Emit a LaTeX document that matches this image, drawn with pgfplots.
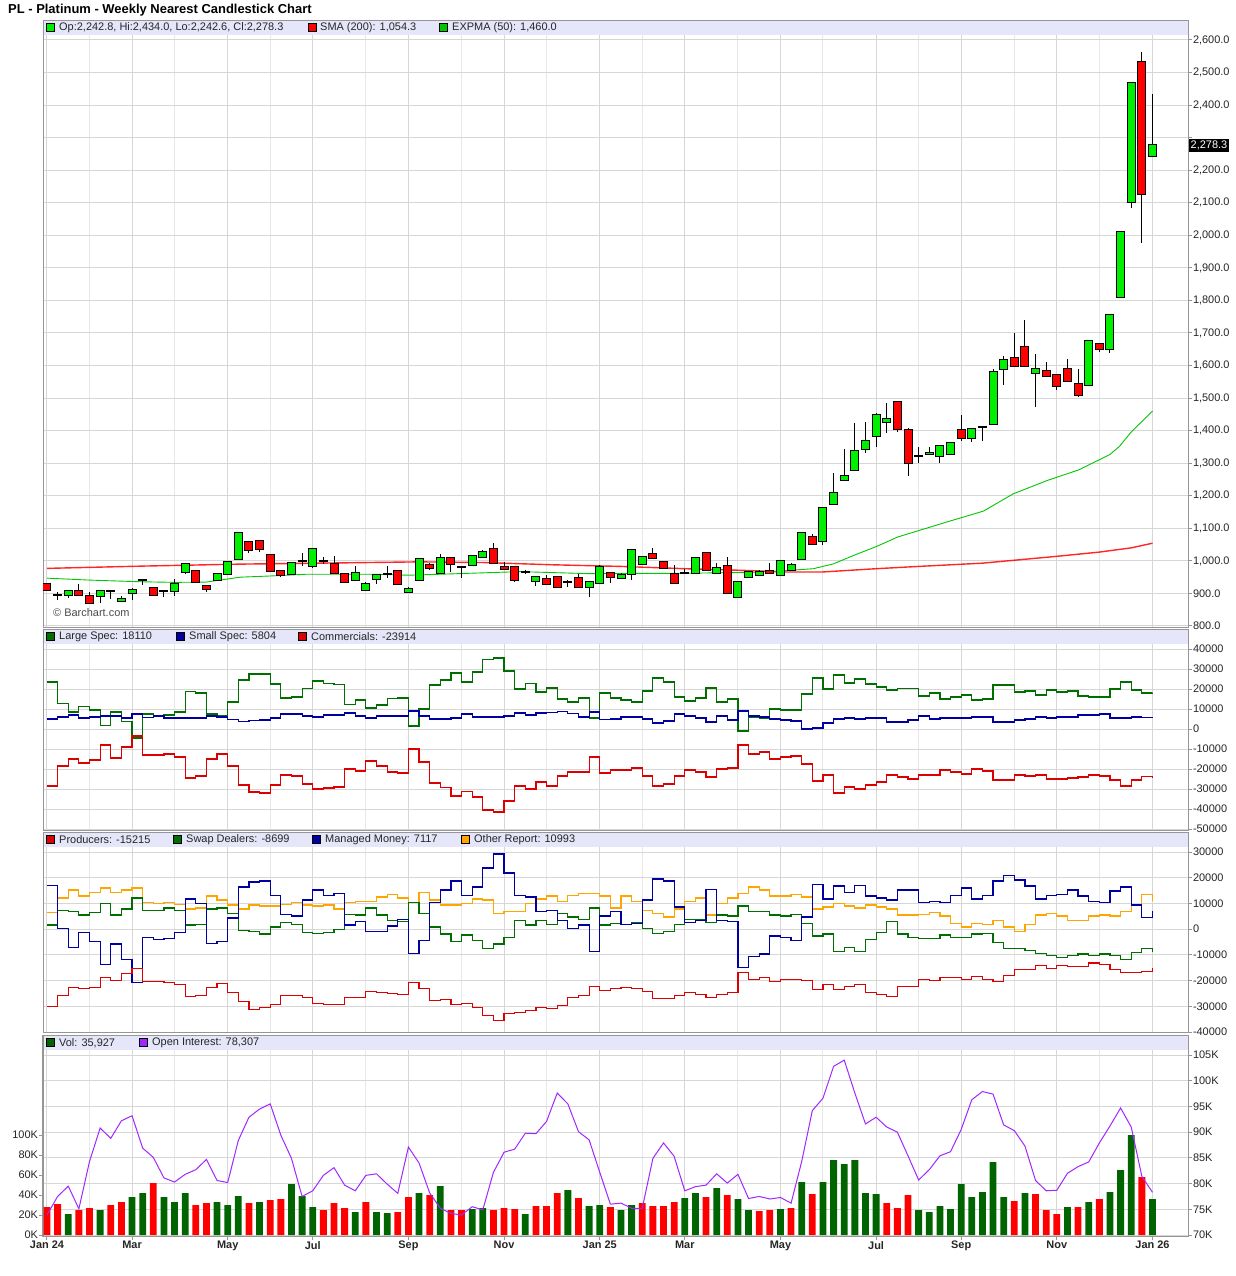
\documentclass[border=0pt]{standalone}
\usepackage{fontspec}
\setmainfont{Liberation Sans}
\usepackage{pgfplots}
\usepackage{pgfplotstable}
\pgfplotsset{compat=1.18}
\definecolor{cgreen}{RGB}{0,238,0}
\definecolor{cred}{RGB}{255,0,0}
\definecolor{emagreen}{RGB}{0,200,0}
\definecolor{dkgreen}{RGB}{0,110,0}
\definecolor{navy}{RGB}{0,0,160}
\definecolor{cotred}{RGB}{220,0,0}
\definecolor{orng}{RGB}{255,165,0}
\definecolor{purp}{RGB}{160,40,255}
\definecolor{volgreen}{RGB}{0,100,0}
\definecolor{stripc}{RGB}{230,230,250}
\definecolor{gridc}{RGB}{214,214,214}
\definecolor{gridl}{RGB}{232,232,232}
\definecolor{framec}{RGB}{150,150,150}
\newcommand\lf{\fontsize{11}{13}\selectfont}

\pgfplotstableread{
i o h l c
1 896 905 880 896
2 894 911 885 909
5 892 908 872 907
6 909 910 883 909
7 877 892 877 883
8 901 916 880 910
9 940 942 925 940
11 908 908 888 908
12 907 944 892 928
13 965 990 959 990
16 941 959 941 959
17 960 998 960 998
18 1005 1085 1005 1085
23 961 993 957 993
24 1001 1024 985 1001
25 983 1041 977 1036
26 1001 1011 990 1001
29 941 983 941 963
30 910 935 910 929
31 944 959 928 956
32 960 983 947 960
34 905 921 905 913
35 941 1005 941 1005
37 962 1022 962 1008
39 982 982 947 982
40 986 1014 986 1014
41 1011 1034 1008 1027
45 967 972 959 967
46 937 950 924 950
49 936 942 921 936
51 919 934 890 934
52 931 986 931 981
54 947 962 947 957
55 959 1033 942 1033
56 990 1015 990 1011
60 964 974 964 964
61 962 1008 962 1008
63 962 995 962 977
65 888 938 885 935
66 950 965 947 965
67 956 972 954 965
69 956 999 956 999
70 973 993 973 988
71 1005 1087 1005 1087
73 1060 1165 1050 1163
74 1176 1271 1176 1209
75 1249 1345 1247 1261
76 1280 1424 1280 1337
77 1345 1428 1331 1369
78 1384 1455 1350 1449
79 1427 1486 1393 1437
82 1322 1350 1300 1322
83 1328 1350 1328 1332
84 1323 1353 1300 1353
85 1328 1362 1328 1362
87 1378 1406 1365 1406
88 1411 1411 1368 1411
89 1421 1590 1421 1580
90 1590 1628 1539 1618
93 1578 1634 1472 1590
98 1541 1676 1537 1676
100 1652 1756 1639 1756
101 1810 2010 1810 2010
102 2102 2468 2084 2468
104 2242.8 2434 2242.6 2278.3
}\candup

\pgfplotstableread{
i o h l c
0 928 930 906 910
3 909 928 894 894
4 893 903 870 870
10 918 918 894 894
14 968 968 934 934
15 922 925 903 913
19 1059 1059 1023 1033
20 1060 1060 1027 1036
21 1017 1017 968 968
22 970 970 950 956
27 991 1016 962 962
28 959 959 934 934
33 969 969 928 928
36 986 995 972 979
38 1008 1008 967 990
42 1036 1054 990 995
43 981 998 974 974
44 981 981 935 940
47 943 956 928 928
48 950 950 920 920
50 946 959 916 919
53 962 962 931 951
57 1021 1040 1008 1008
58 996 996 977 977
59 959 988 931 931
62 1024 1024 972 972
64 985 1013 900 900
68 968 995 959 962
72 1073 1083 1051 1051
80 1489 1489 1396 1406
81 1403 1409 1261 1302
86 1403 1447 1368 1378
91 1624 1700 1595 1598
92 1657 1739 1600 1600
94 1582 1610 1565 1568
95 1572 1572 1526 1538
96 1590 1621 1554 1554
97 1544 1588 1503 1510
99 1667 1667 1641 1652
103 2532 2563 1976 2127
}\canddn

\pgfplotstableread{
i ls ss cm
0 23500 5000 -28500
1 12700 6000 -18500
2 8500 7000 -15000
3 11300 5500 -17000
4 9500 6000 -15500
5 1800 6500 -8000
6 8500 6500 -14500
7 3700 5500 -9000
8 -4500 7500 -3500
9 7500 5800 -13000
10 6800 6500 -13000
11 7000 5500 -12500
12 8500 5500 -14000
13 18800 5500 -24500
14 18000 5500 -23500
15 7500 6500 -15000
16 6800 6000 -12500
17 13500 4700 -18500
18 24500 3700 -28000
19 27500 4200 -31500
20 27500 4500 -32000
21 22500 5500 -28000
22 15500 7500 -23000
23 16000 7500 -23500
24 20300 6500 -27500
25 24000 6000 -30000
26 22800 7000 -29500
27 22200 7000 -29000
28 12200 8000 -20000
29 14500 6500 -21000
30 10500 5500 -16000
31 12000 6500 -18500
32 15200 6500 -21500
33 15500 6500 -22000
34 1500 9000 -10000
35 10000 6500 -16500
36 22000 5000 -27000
37 24500 5000 -29200
38 28000 5500 -33500
39 23500 7500 -31200
40 28500 6000 -34000
41 34800 6000 -40500
42 35500 6000 -41500
43 29000 6500 -36000
44 20000 8000 -28500
45 22700 7000 -30000
46 18500 8000 -26500
47 20500 8200 -28500
48 15000 8700 -23500
49 13500 7700 -21500
50 15500 6000 -21500
51 5500 8500 -14000
52 18000 4700 -22000
53 15500 5000 -20500
54 14500 6000 -20500
55 13500 6000 -19500
56 19000 5000 -23500
57 25500 3000 -28500
58 23500 4000 -27500
59 16000 7500 -23500
60 14000 6500 -20500
61 15500 5500 -21500
62 20500 3500 -24000
63 13500 6500 -20000
64 15000 4500 -19500
65 -1000 9000 -8000
66 6000 6500 -12500
67 5500 6000 -11500
68 10000 5000 -15000
69 9500 4500 -14000
70 9500 4000 -13500
71 17500 0 -17500
72 25500 500 -26000
73 20000 3000 -23000
74 27000 5000 -32000
75 23000 5500 -29000
76 25000 5000 -30000
77 22500 5500 -28000
78 21000 5500 -26500
79 19500 3500 -23000
80 20300 3500 -24000
81 20300 4500 -25000
82 16500 6500 -23000
83 18000 5000 -23000
84 15000 5500 -20500
85 16000 5500 -21500
86 17000 5500 -22500
87 14500 6000 -20000
88 15000 6000 -21000
89 22000 3500 -25500
90 22000 3500 -25500
91 18500 4500 -23000
92 19000 5000 -23500
93 17000 6000 -23000
94 19500 5500 -25000
95 18500 6000 -25000
96 19000 6000 -24500
97 16500 7000 -24000
98 16000 7000 -23000
99 16000 7500 -23500
100 20000 5500 -25500
101 23500 5500 -28500
102 19500 6000 -25500
103 18000 5800 -23900
104 18110 5804 -23914
}\cotA

\pgfplotstableread{
i pr sw mm ot
0 -30000 1600 17100 6600
1 -25700 7400 400 12100
2 -22600 7000 -7000 15200
3 -23000 5500 -1200 12900
4 -22600 6600 -4700 14400
5 -18700 10100 -13900 16000
6 -19900 5500 -5800 14400
7 -17100 7800 -11700 15200
8 -15200 12100 -20700 16000
9 -20300 7400 -3100 10500
10 -20300 7400 -3900 10100
11 -20700 8200 -3500 10500
12 -21400 7400 -1200 9700
13 -26100 1600 11700 7800
14 -25700 1900 10100 8200
15 -22600 7800 -5500 12900
16 -21000 8200 -4700 11300
17 -24600 6200 4300 9400
18 -28100 -400 16400 7800
19 -31200 -800 18300 9400
20 -30400 -1900 18700 9000
21 -29200 800 13200 9000
22 -25700 2700 5800 9700
23 -25700 1900 5100 10500
24 -26500 -1200 11300 9400
25 -28800 -1600 15200 9000
26 -29200 -1200 13200 9400
27 -29200 0 14000 7800
28 -26500 5800 1600 10500
29 -26500 5500 3100 10900
30 -24200 8200 -800 10900
31 -24600 5500 -800 12500
32 -24900 3500 1200 13600
33 -25300 3100 3900 12100
34 -20700 10500 -9400 10500
35 -23000 6200 -4300 14400
36 -27700 800 10500 11300
37 -27300 -1900 15200 9400
38 -29200 -4700 18700 9400
39 -28800 -2300 13200 10100
40 -30400 -4300 16400 11700
41 -33500 -7400 23800 11300
42 -35500 -5800 29200 6200
43 -32700 -3100 21800 7000
44 -32300 3500 13200 7000
45 -31600 1600 12500 10100
46 -30400 3500 7000 11700
47 -30800 1900 7400 12900
48 -29600 6200 3500 10900
49 -26500 4700 400 13200
50 -25700 3900 1600 14000
51 -22200 8200 -8600 14000
52 -23800 1600 5100 12900
53 -23000 2300 7000 8200
54 -22600 1900 1900 12900
55 -23000 2700 2300 10900
56 -24200 400 11300 7400
57 -26900 -1600 19500 6200
58 -26900 -800 18700 4700
59 -25700 1900 8600 7800
60 -24600 3900 2700 10900
61 -25300 3900 3500 12100
62 -26500 2700 15300 5500
63 -25300 5500 3500 10100
64 -24600 5100 3100 12100
65 -16800 9000 -14800 14000
66 -19500 7000 -10500 16400
67 -18800 7000 -9700 15200
68 -20300 5500 -2700 12900
69 -19500 5100 -3100 12900
70 -19500 5800 -4300 13600
71 -19900 2300 4700 12500
72 -23400 -2700 17500 7800
73 -21400 -1900 11700 8600
74 -23400 -8600 16800 10100
75 -22200 -7000 14400 9000
76 -21400 -8600 17100 8200
77 -24600 -3900 12900 9400
78 -25300 -1200 12100 8600
79 -26100 3100 11300 7800
80 -22200 -1900 15200 5500
81 -22200 -3100 15200 5500
82 -19500 -3500 10500 5800
83 -19900 -3500 10900 6600
84 -18700 -2300 10500 5100
85 -18700 -3100 13200 2300
86 -19500 -3100 16000 800
87 -18300 -1900 11700 2300
88 -19500 -1600 13200 1900
89 -20300 -5100 18700 3500
90 -17900 -7400 21000 800
91 -15600 -7400 19100 -800
92 -15600 -8200 16800 1900
93 -14000 -9400 11700 5500
94 -15200 -10100 13200 6200
95 -14000 -10900 13600 5100
96 -14400 -10100 15200 3500
97 -14400 -9700 12900 3500
98 -13200 -10100 10900 5100
99 -13600 -9700 10500 5500
100 -15600 -10100 14800 5100
101 -16800 -11700 16400 7000
102 -16800 -9000 9400 9700
103 -16400 -7400 4400 13600
104 -15215 -8699 7117 10993
}\cotB

\pgfplotsset{
  panel/.style={
    scale only axis, width=1145bp, anchor=north west,
    xmin=-0.376, xmax=107.34,
    axis line style={draw=framec, line width=1bp},
    xtick={0,8,17,25,34,43,52,60,69,78,86,95,104},
    minor xtick={4,12,21,30,39,47,56,65,73,82,91,99},
    xticklabels={},
    xmajorgrids, xminorgrids, ymajorgrids,
    major grid style={draw=gridc, line width=1bp},
    minor grid style={draw=gridl, line width=1bp},
    xtick style={draw=none}, minor tick length=0pt,
    ytick pos=right, yticklabel pos=right,
    tick align=outside, major tick length=4bp,
    ytick style={draw=framec, line width=1bp},
    yticklabel style={anchor=west, inner sep=0.8bp, font=\lf, text=black!85},
    scaled y ticks=false,
  },
  cbar/.style={draw=none, mark=none, mark size=0pt, forget plot, error bars/.cd, y dir=both, y explicit, error mark=none},
}

\begin{document}
\begin{tikzpicture}
\useasboundingbox (0bp,0bp) rectangle (1236bp,-1276bp);
\fill[white] (0bp,0bp) rectangle (1236bp,-1276bp);

% ---------------- Panel 1: candles ----------------
\begin{axis}[panel, at={(43bp,-20bp)}, height=607bp, ymin=796.9, ymax=2661.4,
  ytick={800,900,...,2600},
  yticklabels={800.0,900.0,{1,000.0},{1,100.0},{1,200.0},{1,300.0},{1,400.0},{1,500.0},{1,600.0},{1,700.0},{1,800.0},{1,900.0},{2,000.0},{2,100.0},{2,200.0},{},{2,400.0},{2,500.0},{2,600.0}}]
\addplot[cred, line width=1.4bp, opacity=0.85] coordinates {(0,977) (9,984) (18,990) (28,994) (35,997) (41,995) (47.6,988) (54,983) (60,976) (66.4,970) (69,966) (73,966) (78,976) (82,983) (88,993) (91,1002) (95,1014) (99,1027) (102,1040) (104,1054.3)};
\addplot[emagreen, line width=0.9bp] coordinates {(0,947) (4,941) (8.7,936) (12,934) (15,935) (18.2,950) (21.3,954) (24.4,959) (30.7,959) (34,956) (37,959) (44.5,967) (50.8,961) (60.2,962) (66.4,965) (69,969) (72.1,976) (74,991) (75.9,1017) (78.1,1045) (80,1073) (82.1,1094) (84.6,1119) (88.1,1153) (90.9,1206) (94.1,1247) (97.1,1280) (100,1327) (100.9,1352) (102,1396) (104,1460)};
% wicks
\addplot[cbar, error bar style={draw=black, line width=1bp}] table[x=i, y expr={(\thisrow{h}+\thisrow{l})/2}, y error expr={(\thisrow{h}-\thisrow{l})/2}] {\candup};
\addplot[cbar, error bar style={draw=black, line width=1bp}] table[x=i, y expr={(\thisrow{h}+\thisrow{l})/2}, y error expr={(\thisrow{h}-\thisrow{l})/2}] {\canddn};
% body outlines
\addplot[cbar, error bar style={draw=black, line width=9bp}] table[x=i, y expr={(\thisrow{o}+\thisrow{c})/2}, y error expr={abs(\thisrow{c}-\thisrow{o})/2+3.07}] {\candup};
\addplot[cbar, error bar style={draw=black, line width=9bp}] table[x=i, y expr={(\thisrow{o}+\thisrow{c})/2}, y error expr={abs(\thisrow{c}-\thisrow{o})/2+3.07}] {\canddn};
% body fills
\addplot[cbar, error bar style={draw=cgreen, line width=7bp}] table[x=i, y expr={(\thisrow{o}+\thisrow{c})/2}, y error expr={abs(\thisrow{c}-\thisrow{o})/2}] {\candup};
\addplot[cbar, error bar style={draw=cred, line width=7bp}] table[x=i, y expr={(\thisrow{o}+\thisrow{c})/2}, y error expr={abs(\thisrow{c}-\thisrow{o})/2}] {\canddn};
\end{axis}

% ---------------- Panel 2: COT ----------------
\begin{axis}[panel, at={(43bp,-629bp)}, height=201bp, ymin=-50500, ymax=50000,
  ytick={-50000,-40000,...,40000},
  yticklabels={-50000,-40000,-30000,-20000,-10000,0,10000,20000,30000,40000}]
\addplot[const plot, dkgreen, line width=1.2bp] table[x=i, y=ls] {\cotA};
\addplot[const plot, navy, line width=1.2bp] table[x=i, y=ss] {\cotA};
\addplot[const plot, cotred, line width=1.2bp] table[x=i, y=cm] {\cotA};
\end{axis}

% ---------------- Panel 3: disaggregated COT ----------------
\begin{axis}[panel, at={(43bp,-832bp)}, height=200bp, ymin=-40000, ymax=37778,
  ytick={-40000,-30000,...,30000},
  yticklabels={-40000,-30000,-20000,-10000,0,10000,20000,30000}]
\addplot[const plot, orng, line width=1.2bp] table[x=i, y=ot] {\cotB};
\addplot[const plot, dkgreen, line width=1.2bp] table[x=i, y=sw] {\cotB};
\addplot[const plot, navy, line width=1.2bp] table[x=i, y=mm] {\cotB};
\addplot[const plot, cotred, line width=1.2bp] table[x=i, y=pr] {\cotB};
\end{axis}

% ---------------- Panel 4: volume / open interest ----------------
\begin{axis}[panel, at={(43bp,-1035bp)}, height=201bp, ymin=69.806, ymax=108.889,
  ytick={70,75,...,105}, yticklabels={70K,75K,80K,85K,90K,95K,100K,105K},
  xticklabels={Jan 24,Mar,May,Jul,Sep,Nov,Jan 25,Mar,May,Jul,Sep,Nov,Jan 26},
  xtick style={draw=framec, line width=1bp}, xtick pos=left,
  xticklabel style={font=\bfseries\lf, inner sep=1bp, anchor=north, text=black!85}]
\addplot[draw=none] coordinates {(0,80)};
\end{axis}
\begin{axis}[scale only axis, width=1145bp, height=201bp, anchor=north west, at={(43bp,-1035bp)},
  xmin=-0.376, xmax=107.34, ymin=-1, ymax=200,
  axis line style={draw=framec, line width=1bp},
  xtick=\empty, ytick={0,20,...,100}, yticklabels={0K,20K,40K,60K,80K,100K},
  ytick pos=left, tick align=outside, major tick length=4bp,
  ytick style={draw=framec, line width=1bp},
  yticklabel style={anchor=east, inner sep=0.8bp, font=\lf, text=black!85}]
\addplot[ybar, bar width=6.8bp, bar shift=0pt, fill=volgreen, draw=none] coordinates {(2,21) (5,25) (8,38) (9,42) (11,38) (12,33) (13,42) (16,33) (17,30) (18,39) (20,33) (23,51) (24,39) (25,28) (29,23) (31,23) (32,22) (35,42) (37,49) (40,26) (41,27) (45,21) (49,45) (51,29) (52,30) (54,25) (55,30) (60,37) (61,42) (63,47) (65,36) (66,25) (69,26) (71,53) (73,53) (74,75) (75,71) (76,75) (77,42) (78,41) (82,25) (83,23) (84,29) (85,26) (86,51) (87,38) (88,43) (89,73) (90,38) (92,42) (96,28) (98,33) (100,43) (101,65) (102,100) (104,35.927)};
\addplot[ybar, bar width=6.8bp, bar shift=0pt, fill=cred, draw=none] coordinates {(0,28) (1,31) (3,25) (4,27) (6,30) (7,33) (10,52) (14,30) (15,32) (19,32) (21,35) (22,36) (26,25) (27,32) (28,27) (30,33) (33,23) (34,38) (36,40) (38,25) (39,25) (42,25) (43,27) (44,26) (46,29) (47,29) (48,42) (50,37) (53,28) (56,32) (57,29) (58,29) (59,33) (62,38) (64,40) (67,24) (68,25) (70,27) (72,41) (79,32) (80,27) (81,40) (91,34) (93,41) (94,25) (95,21) (97,28) (99,36) (103,58)};
\end{axis}
\begin{axis}[scale only axis, width=1145bp, height=201bp, anchor=north west, at={(43bp,-1035bp)},
  xmin=-0.376, xmax=107.34, ymin=69.806, ymax=108.889, hide axis]
\addplot[purp, line width=1bp] coordinates {(0,73.9) (1,77.5) (2,79.5) (3,75.1) (4,84.3) (5,90.8) (6,88.8) (7,92.2) (8,93.2) (9,86.9) (10,85.1) (11,81.1) (12,80.3) (13,81.8) (14,82.7) (15,84.7) (16,80.6) (17,80.2) (18,88.4) (19,92.9) (20,94.5) (21,95.5) (22,89.4) (23,84.9) (24,77.5) (25,78.6) (26,81.6) (27,83.1) (28,79.7) (29,78.6) (30,81.6) (31,81.9) (32,79.9) (33,78.1) (34,87.1) (35,84.0) (36,78.2) (37,75.2) (38,74.2) (39,73.9) (40,75.5) (41,74.9) (42,82.2) (43,86.1) (44,86.7) (45,89.8) (46,89.7) (47,92.1) (48,97.6) (49,95.5) (50,90.1) (51,88.5) (52,82.2) (53,76.0) (54,76.2) (55,75.2) (56,75.2) (57,84.9) (58,87.9) (59,85.3) (60,78.6) (61,79.4) (62,79.7) (63,81.9) (64,80.1) (65,81.8) (66,77.1) (67,77.5) (68,77.0) (69,77.3) (70,76.2) (71,84.3) (72,94.2) (73,96.6) (74,102.8) (75,104.0) (76,97.6) (77,91.6) (78,92.9) (79,91.0) (80,90.0) (81,85.4) (82,80.7) (83,82.7) (84,85.4) (85,86.2) (86,90.5) (87,96.3) (88,97.9) (89,97.4) (90,91.4) (91,90.3) (92,87.3) (93,80.6) (94,78.6) (95,78.7) (96,82.0) (97,83.3) (98,84.2) (99,87.9) (100,91.2) (101,94.7) (102,91.0) (103,81.4) (104,78.3)};
\end{axis}

% ---------------- legend strips and texts ----------------
\fill[stripc] (43.5bp,-20.5bp) rectangle (1187.5bp,-35bp);
\fill[stripc] (43.5bp,-629.5bp) rectangle (1187.5bp,-644bp);
\fill[stripc] (43.5bp,-832.5bp) rectangle (1187.5bp,-847bp);
\fill[stripc] (43.5bp,-1035.5bp) rectangle (1187.5bp,-1050bp);

\node[anchor=base west, inner sep=0, font=\bfseries\fontsize{13}{15}\selectfont] at (8bp,-13bp) {PL - Platinum - Weekly Nearest Candlestick Chart};

\begin{scope}[every node/.style={anchor=west, inner sep=0, font=\lf, text=black!85}]
% panel 1
\filldraw[fill=cgreen, draw=black, line width=0.8bp] (46.5bp,-23.5bp) rectangle (54.5bp,-31.5bp);
\node at (59bp,-27.8bp) {Op:2,242.8, Hi:2,434.0, Lo:2,242.6, Cl:2,278.3};
\filldraw[fill=cred, draw=black, line width=0.8bp] (308.5bp,-23.5bp) rectangle (316.5bp,-31.5bp);
\node at (320bp,-27.8bp) {SMA (200): 1,054.3};
\filldraw[fill=emagreen, draw=black, line width=0.8bp] (439.5bp,-23.5bp) rectangle (447.5bp,-31.5bp);
\node at (452bp,-27.8bp) {EXPMA (50): 1,460.0};
% panel 2
\filldraw[fill=dkgreen, draw=black, line width=0.8bp] (46.5bp,-632.5bp) rectangle (54.5bp,-640.5bp);
\node at (59bp,-636.8bp) {Large Spec: 18110};
\filldraw[fill=navy, draw=black, line width=0.8bp] (176.5bp,-632.5bp) rectangle (184.5bp,-640.5bp);
\node at (189bp,-636.8bp) {Small Spec: 5804};
\filldraw[fill=cotred, draw=black, line width=0.8bp] (298.5bp,-632.5bp) rectangle (306.5bp,-640.5bp);
\node at (311bp,-636.8bp) {Commercials: -23914};
% panel 3
\filldraw[fill=cotred, draw=black, line width=0.8bp] (46.5bp,-835.5bp) rectangle (54.5bp,-843.5bp);
\node at (59bp,-839.8bp) {Producers: -15215};
\filldraw[fill=dkgreen, draw=black, line width=0.8bp] (173.5bp,-835.5bp) rectangle (181.5bp,-843.5bp);
\node at (186bp,-839.8bp) {Swap Dealers: -8699};
\filldraw[fill=navy, draw=black, line width=0.8bp] (312.5bp,-835.5bp) rectangle (320.5bp,-843.5bp);
\node at (325bp,-839.8bp) {Managed Money: 7117};
\filldraw[fill=orng, draw=black, line width=0.8bp] (461.5bp,-835.5bp) rectangle (469.5bp,-843.5bp);
\node at (474bp,-839.8bp) {Other Report: 10993};
% panel 4
\filldraw[fill=volgreen, draw=black, line width=0.8bp] (46.5bp,-1038.5bp) rectangle (54.5bp,-1046.5bp);
\node at (59bp,-1042.8bp) {Vol: 35,927};
\filldraw[fill=purp, draw=black, line width=0.8bp] (139.5bp,-1038.5bp) rectangle (147.5bp,-1046.5bp);
\node at (152bp,-1042.8bp) {Open Interest: 78,307};
% copyright
\node[text=black!70] at (53bp,-613bp) {© Barchart.com};
\end{scope}

% last price tag
\fill[black] (1189bp,-139bp) rectangle (1229bp,-152bp);
\node[anchor=center, inner sep=0, font=\lf, text=white] at (1209bp,-145.5bp) {2,278.3};
\end{tikzpicture}
\end{document}
